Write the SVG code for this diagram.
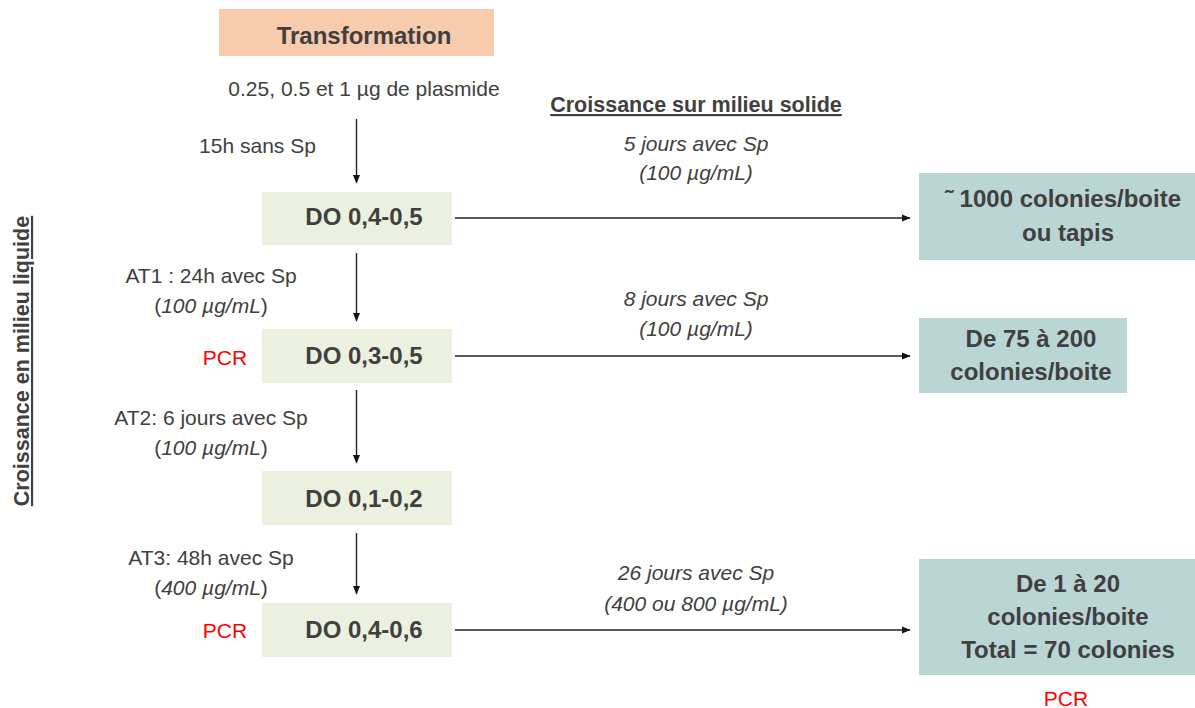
<svg xmlns="http://www.w3.org/2000/svg" width="1195" height="708" viewBox="0 0 1195 708">
<defs>
<marker id="ah" markerWidth="9" markerHeight="8" refX="8" refY="4" orient="auto" markerUnits="userSpaceOnUse">
<path d="M0,0.5 L8.5,4 L0,7.5 z" fill="#111"/>
</marker>
<style>
text{font-family:"Liberation Sans",Arial,sans-serif;fill:#404040}
.r{font-size:21px}
.i{font-size:21px;font-style:italic}
.b{font-size:24px;font-weight:bold}
.h{font-size:21.5px;font-weight:bold;text-decoration:underline}
.v{font-size:21.5px;font-weight:bold;text-decoration:underline}
.pcr{font-size:21px;fill:#FF0000}
.m{text-anchor:middle}
.peach{fill:#F8CBAD}
.green{fill:#EBF1DE}
.teal{fill:#B9D5D4}
.c{stroke:#222;stroke-width:1.4;fill:none}
</style>
</defs>
<rect width="1195" height="708" fill="#fff"/>

<g id="connectors">
<line class="c" x1="356.5" y1="119" x2="356.5" y2="183" marker-end="url(#ah)"/>
<line class="c" x1="356.5" y1="253" x2="356.5" y2="321" marker-end="url(#ah)"/>
<line class="c" x1="356.5" y1="390" x2="356.5" y2="463" marker-end="url(#ah)"/>
<line class="c" x1="356.5" y1="533" x2="356.5" y2="594" marker-end="url(#ah)"/>
<line class="c" x1="455" y1="218" x2="910" y2="218" marker-end="url(#ah)"/>
<line class="c" x1="455" y1="356" x2="910" y2="356" marker-end="url(#ah)"/>
<line class="c" x1="455" y1="630" x2="910" y2="630" marker-end="url(#ah)"/>
</g>

<g id="transformation">
<rect class="peach" x="219" y="9" width="275" height="47"/>
<text class="b m" x="364" y="44">Transformation</text>
</g>

<g id="do1">
<rect class="green" x="262" y="192" width="190" height="53"/>
<text class="b m" x="364" y="225">DO 0,4-0,5</text>
</g>
<g id="do2">
<rect class="green" x="262" y="329" width="190" height="54"/>
<text class="b m" x="364" y="364">DO 0,3-0,5</text>
</g>
<g id="do3">
<rect class="green" x="262" y="471" width="190" height="54"/>
<text class="b m" x="364" y="507">DO 0,1-0,2</text>
</g>
<g id="do4">
<rect class="green" x="262" y="603" width="190" height="54"/>
<text class="b m" x="364" y="638">DO 0,4-0,6</text>
</g>

<g id="res1">
<rect class="teal" x="919" y="173" width="276" height="87"/>
<text class="b m" x="1063" y="207">˜ 1000 colonies/boite</text>
<text class="b m" x="1068" y="241">ou tapis</text>
</g>
<g id="res2">
<rect class="teal" x="919" y="318" width="208" height="75"/>
<text class="b m" x="1031" y="347">De 75 à 200</text>
<text class="b m" x="1031" y="380">colonies/boite</text>
</g>
<g id="res3">
<rect class="teal" x="919" y="559" width="276" height="116"/>
<text class="b m" x="1068" y="592">De 1 à 20</text>
<text class="b m" x="1068" y="625">colonies/boite</text>
<text class="b m" x="1068" y="658">Total = 70 colonies</text>
</g>

<g id="labels">
<text class="r m" x="364" y="96">0.25, 0.5 et 1 µg de plasmide</text>
<text class="r m" x="257.5" y="153">15h sans Sp</text>
<text class="r m" x="211" y="283">AT1 : 24h avec Sp</text>
<text class="r m" x="211" y="313">(<tspan font-style="italic">100 µg/mL</tspan>)</text>
<text class="r m" x="211" y="425">AT2: 6 jours avec Sp</text>
<text class="r m" x="211" y="455">(<tspan font-style="italic">100 µg/mL</tspan>)</text>
<text class="r m" x="211" y="565">AT3: 48h avec Sp</text>
<text class="r m" x="211" y="595">(<tspan font-style="italic">400 µg/mL</tspan>)</text>
<text class="pcr m" x="225" y="365">PCR</text>
<text class="pcr m" x="225" y="638">PCR</text>
<text class="pcr m" x="1066" y="706">PCR</text>
<text class="h m" x="696" y="112">Croissance sur milieu solide</text>
<text class="i m" x="696" y="151">5 jours avec Sp</text>
<text class="i m" x="696" y="180">(100 µg/mL)</text>
<text class="i m" x="696" y="306">8 jours avec Sp</text>
<text class="i m" x="696" y="336">(100 µg/mL)</text>
<text class="i m" x="696" y="580">26 jours avec Sp</text>
<text class="i m" x="696" y="611">(400 ou 800 µg/mL)</text>
<text class="v m" transform="translate(29,361) rotate(-90)" x="0" y="0">Croissance en milieu liquide</text>
</g>
</svg>
